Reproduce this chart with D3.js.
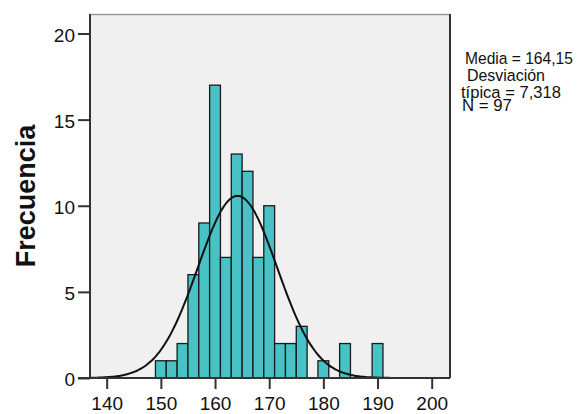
<!DOCTYPE html>
<html>
<head>
<meta charset="utf-8">
<script src="https://cdn.jsdelivr.net/npm/d3@7"></script>
<style>
  body { margin: 0; background: #fff; }
  text { font-family: "Liberation Sans", Arial, sans-serif; fill: #111; }
</style>
</head>
<body>
<script>
// bin centres (width 2) and counts
const binCenters = [150, 152, 154, 156, 158, 160, 162, 164, 166, 168, 170, 172, 174, 176, 178, 180, 182, 184, 186, 188, 190]
const counts = [1, 1, 2, 6, 9, 17, 7, 13, 12, 7, 10, 2, 2, 3, 0, 1, 0, 2, 0, 0, 2]
const binWidth = 2

const xTicks = [140, 150, 160, 170, 180, 190, 200]
const yTicks = [0, 5, 10, 15, 20]

const mean = 164.15
const sd = 7.318
const n = 97
const statLines = ['Media = 164,15', 'Desviación', 'típica = 7,318', 'N = 97']

const w = 580
const h = 414
const frame = {left: 90, right: 450, top: 14, bottom: 378}

const svg = d3.select('body')
    .append('svg')
    .attr('width', w)
    .attr('height', h)

const xScale = d3.scaleLinear()
    .domain([140, 200])
    .range([106.7, 431.7])

const yScale = d3.scaleLinear()
    .domain([0, 20])
    .range([frame.bottom, 33.5])

// plot background
svg.append('rect')
    .attr('x', frame.left)
    .attr('y', frame.top)
    .attr('width', frame.right - frame.left)
    .attr('height', frame.bottom - frame.top)
    .attr('fill', '#f0f0f0')

svg.append('clipPath')
    .attr('id', 'clip')
    .append('rect')
    .attr('x', frame.left)
    .attr('y', frame.top)
    .attr('width', frame.right - frame.left)
    .attr('height', frame.bottom - frame.top)

const data = binCenters.map((c, i) => ({c: c, n: counts[i]})).filter(d => d.n > 0)

svg.selectAll('rect.bar')
    .data(data)
    .enter()
    .append('rect')
    .attr('class', 'bar')
    .attr('x', d => xScale(d.c - binWidth / 2))
    .attr('y', d => yScale(d.n))
    .attr('width', d => xScale(d.c + binWidth / 2) - xScale(d.c - binWidth / 2))
    .attr('height', d => yScale(0) - yScale(d.n))
    .attr('fill', '#48c2c4')
    .attr('stroke', '#1a1a1a')
    .attr('stroke-width', 1.3)

// fitted normal curve from the reported mean / sd
const x0 = xScale.invert(frame.left)
const x1 = xScale.invert(frame.right)
const curve = d3.range(0, 201).map(i => {
    const v = x0 + (x1 - x0) * i / 200
    const z = (v - mean) / sd
    return [v, n * binWidth * Math.exp(-0.5 * z * z) / (sd * Math.sqrt(2 * Math.PI))]
})

svg.append('path')
    .datum(curve)
    .attr('clip-path', 'url(#clip)')
    .attr('fill', 'none')
    .attr('stroke', '#111')
    .attr('stroke-width', 2)
    .attr('d', d3.line().x(d => xScale(d[0])).y(d => yScale(d[1])).curve(d3.curveBasis))

// frame
svg.append('line')
    .attr('x1', frame.left).attr('x2', frame.right)
    .attr('y1', frame.top + 0.5).attr('y2', frame.top + 0.5)
    .attr('stroke', '#999').attr('stroke-width', 1.5)
svg.append('line')
    .attr('x1', frame.right).attr('x2', frame.right)
    .attr('y1', frame.top).attr('y2', frame.bottom)
    .attr('stroke', '#333').attr('stroke-width', 2)

const xAxis = d3.axisBottom(xScale)
    .tickValues(xTicks)
    .tickSize(11)
    .tickSizeOuter(0)
    .tickPadding(8)

const yAxis = d3.axisLeft(yScale)
    .tickValues(yTicks)
    .tickSize(12)
    .tickSizeOuter(0)
    .tickPadding(3)

const gx = svg.append('g')
    .attr('transform', 'translate(0,' + frame.bottom + ')')
    .call(xAxis)
gx.select('.domain').attr('d', 'M' + (frame.left - 12) + ',0H' + frame.right)

const gy = svg.append('g')
    .attr('transform', 'translate(' + frame.left + ',0)')
    .call(yAxis)
gy.select('.domain').attr('d', 'M0,' + frame.top + 'V' + frame.bottom)

svg.selectAll('.domain, .tick line')
    .attr('stroke', '#333')
    .attr('stroke-width', 2)

svg.selectAll('.tick text')
    .style('font-family', '"Liberation Sans", Arial, sans-serif')
    .style('font-size', '19px')
    .attr('fill', '#222')
gy.selectAll('.tick text').attr('dy', '0.42em')

// axis title
svg.append('text')
    .attr('transform', 'translate(35,196) rotate(-90)')
    .attr('text-anchor', 'middle')
    .style('font-size', '27px')
    .style('font-weight', 'bold')
    .text('Frecuencia')

// statistics box (narrow text, squeezed horizontally)
const statX = [465, 467, 461, 462]
const statY = [64, 81, 98, 111]
const statW = [108, 78, 100, 50]
svg.selectAll('text.stat')
    .data(statLines)
    .enter()
    .append('text')
    .attr('class', 'stat')
    .style('font-size', '17px')
    .text(d => d)
    .each(function (d, i) {
        const k = statW[i] / this.getComputedTextLength()
        d3.select(this).attr('transform', 'translate(' + statX[i] + ',' + statY[i] + ') scale(' + k + ',1)')
    })
</script>
</body>
</html>
